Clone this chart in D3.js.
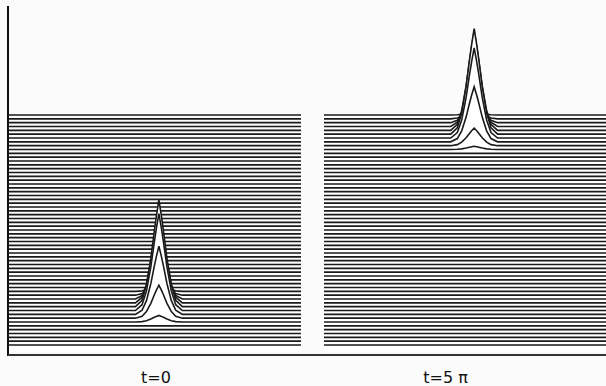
<!DOCTYPE html>
<html lang="en">
<head>
<meta charset="UTF-8">
<title>Wave packet waterfall</title>
<script src="https://d3js.org/d3.v7.min.js"></script>
<style>
  html, body { margin: 0; padding: 0; background: #fbfbfb; }
  svg { display: block; }
  text { font-family: "DejaVu Sans", sans-serif; font-size: 16px; fill: #111; }
</style>
</head>
<body>
<div id="chart"></div>
<script>
  // rows of the waterfall, counted from the front (bottom) to the back
  const rowCount = 61;

  const panelLabels = ["t=0", "t=5 π"];
  const packetCenters = [0.3, 0.25];

  // bump amplitude per row (0..1)
  const leftRows = [6, 7, 8, 9, 10, 11, 12, 13, 14];
  const leftAmps = [0.06, 0.3, 0.62, 0.88, 0.97, 0.85, 0.55, 0.25, 0.07];
  const rightRows = [51, 52, 53, 54, 55, 56, 57, 58, 59, 60];
  const rightAmps = [0.03, 0.16, 0.5, 0.82, 0.96, 0.9, 0.65, 0.35, 0.12, 0.03];

  // shape of one bump: offset from packet centre (x units) and relative height
  const profileOffsets = [-1.6, -1.15, -0.85, -0.55, -0.31, -0.17, 0, 0.17, 0.31, 0.55, 0.85, 1.15, 1.6];
  const profileHeights = [0, 0.06, 0.2, 0.45, 0.71, 0.85, 1, 0.85, 0.71, 0.45, 0.2, 0.06, 0];

  const width = 606, height = 386;
  const axisY = 355, axisX = 8;

  const svg = d3.select("#chart").append("svg")
    .attr("width", width).attr("height", height);

  const rowScale = d3.scaleLinear().domain([0, rowCount - 1]).range([345, 115]);
  const ampScale = d3.scaleLinear().domain([0, 1]).range([0, 110]);

  const panels = [
    { label: panelLabels[0], center: packetCenters[0], rows: leftRows, amps: leftAmps, range: [axisX, 301], labelAt: 0.1 },
    { label: panelLabels[1], center: packetCenters[1], rows: rightRows, amps: rightAmps, range: [324, 617], labelAt: -1.7 }
  ];

  const defs = svg.append("defs");

  panels.forEach((p, pi) => {
    const x = d3.scaleLinear().domain([-10, 10]).range(p.range);
    const clipId = "clip" + pi;
    defs.append("clipPath").attr("id", clipId)
      .append("rect")
      .attr("x", p.range[0]).attr("y", 0)
      .attr("width", p.range[1] - p.range[0]).attr("height", axisY - 2);

    const g = svg.append("g").attr("clip-path", `url(#${clipId})`);

    const ampOf = i => {
      const k = p.rows.indexOf(i);
      return k < 0 ? 0 : p.amps[k];
    };

    const rowPoints = i => {
      const a = ampOf(i);
      const pts = [[-10, 0]];
      profileOffsets.forEach((o, k) => pts.push([p.center + o, a * profileHeights[k]]));
      pts.push([10, 0]);
      return pts;
    };

    const line = base => d3.line()
      .x(d => x(d[0]))
      .y(d => rowScale(base) - ampScale(d[1]));

    const area = base => d3.area()
      .x(d => x(d[0]))
      .y0(axisY - 3)
      .y1(d => rowScale(base) - ampScale(d[1]));

    // draw from back to front so nearer rows hide the ones behind
    d3.range(rowCount - 1, -1, -1).forEach(i => {
      const pts = rowPoints(i);
      if (ampOf(i) > 0) {
        g.append("path").attr("d", area(i)(pts)).attr("fill", "#fff");
      }
      g.append("path").attr("d", line(i)(pts))
        .attr("fill", "none")
        .attr("stroke", "#1a1a1a")
        .attr("stroke-width", 1.6);
    });

    svg.append("text")
      .attr("x", x(p.labelAt))
      .attr("y", 383)
      .attr("text-anchor", "middle")
      .text(p.label);
  });

  // axes
  svg.append("line")
    .attr("x1", axisX).attr("x2", axisX)
    .attr("y1", 6).attr("y2", axisY + 1)
    .attr("stroke", "#111").attr("stroke-width", 2);
  svg.append("line")
    .attr("x1", axisX).attr("x2", width)
    .attr("y1", axisY).attr("y2", axisY)
    .attr("stroke", "#333").attr("stroke-width", 2);
</script>
</body>
</html>
